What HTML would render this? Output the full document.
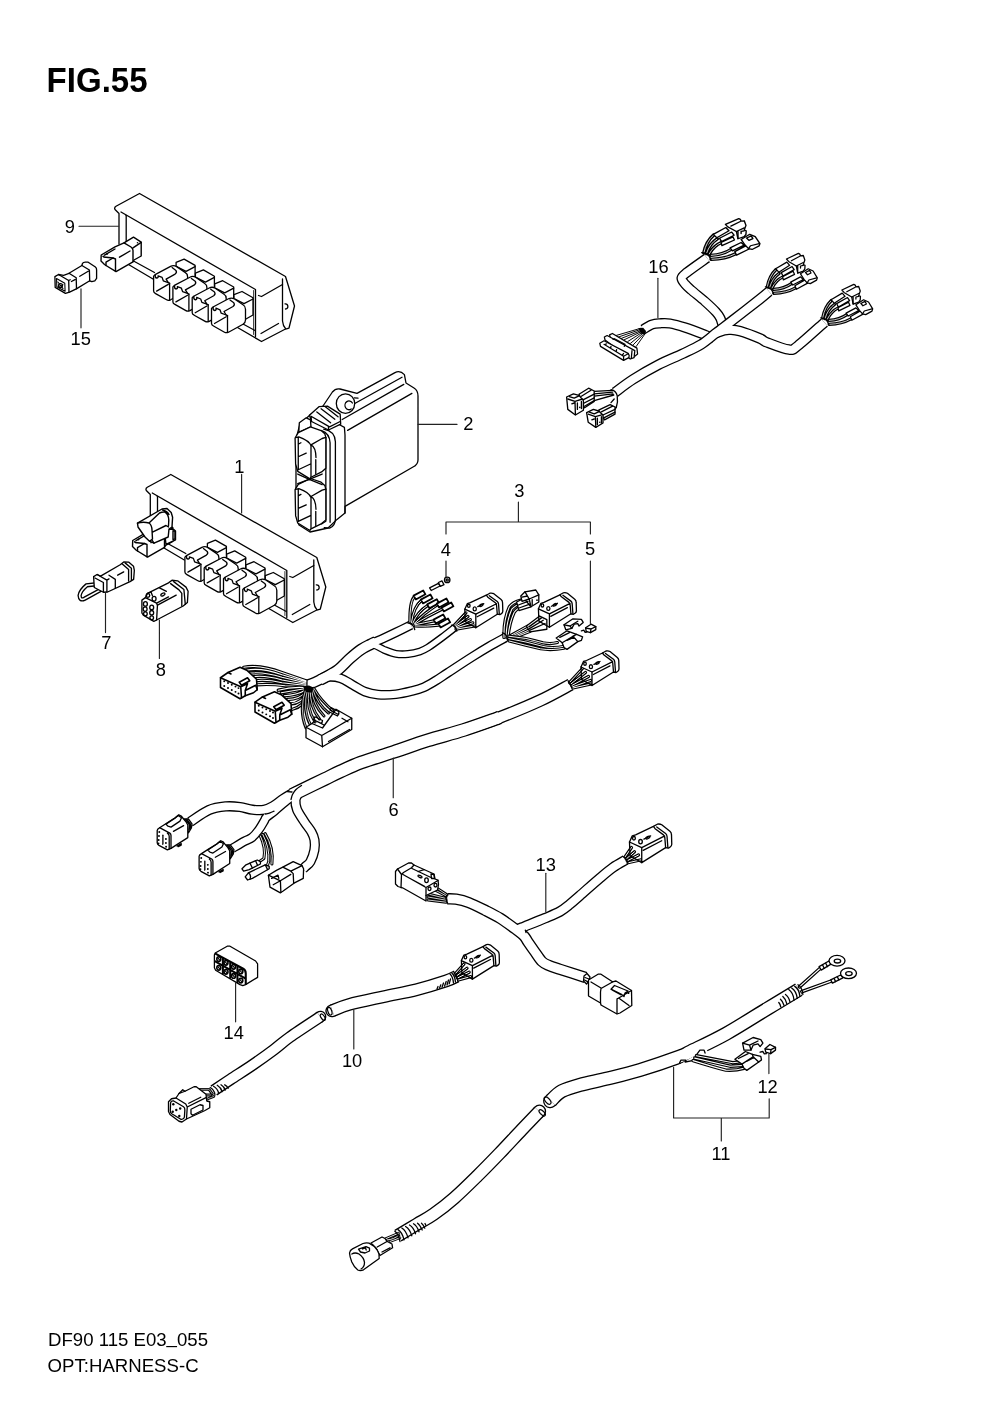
<!DOCTYPE html>
<html><head><meta charset="utf-8"><title>FIG.55</title>
<style>
html,body{margin:0;padding:0;background:#fff;}
body{width:1000px;height:1414px;overflow:hidden;font-family:"Liberation Sans",sans-serif;}
svg{display:block;will-change:transform;}
svg text{font-family:"Liberation Sans",sans-serif;fill:#000;}
.ln{fill:none;stroke:#000;stroke-linecap:round;stroke-linejoin:round;}
.ld{stroke:#222;stroke-width:1.15;}
.wf{fill:#fff;stroke:#000;stroke-linecap:round;stroke-linejoin:round;}
</style></head><body>
<svg width="1000" height="1414" viewBox="0 0 1000 1414">
<rect x="0" y="0" width="1000" height="1414" fill="#fff"/>
<!-- 00_text.svg -->
<g id="txt">
<text x="46.6" y="91.8" font-size="34.3" font-weight="bold" textLength="101" lengthAdjust="spacingAndGlyphs">FIG.55</text>
<text x="48.0" y="1345.9" font-size="18.5" textLength="160" lengthAdjust="spacingAndGlyphs">DF90 115 E03<tspan dy="-2.6">_</tspan><tspan dy="2.6">055</tspan></text>
<text x="47.6" y="1371.9" font-size="18.4" textLength="151" lengthAdjust="spacingAndGlyphs">OPT:HARNESS-C</text>
</g>
<!-- 10_part9.svg -->
<defs>
<g id="cn9">
<path class="wf" d="M340,447 L420,415 L530,478 V650 L455,692 L340,560 Z"/>
<path class="ln" d="M440,537 L530,490 M440,537 L350,492"/>
<path class="wf" d="M115,585 L130,570 L285,488 Q315,472 345,490 L430,548 Q455,562 455,592 V700 Q455,728 430,742 L285,822 Q262,832 245,822 L135,760 Q115,750 115,735 Z"/>
<path class="ln" d="M275,655 V822"/>
<path class="ln" d="M132,572 Q125,600 148,606 Q166,600 160,582 L200,598 L212,632 L262,650 L275,658"/>
<path class="ln" d="M262,650 L240,615 L330,565 Q352,548 338,528 L300,500"/>
<path class="ln" d="M145,735 L262,668"/>
</g>
<g id="box9"><g class="ln" stroke-width="1.3">
<path d="M119,244 V213.5 L115,209.5 Q114,207.5 116,206.3 L139.5,193.5 L285.5,276.5 L294.5,306 L289,328 L285.5,329 L261.5,341.5 L237.5,327.5"/>
<path d="M121,212 L255.5,289.5 V336.5"/>
<path d="M253.6,290.5 V334.5" stroke-width="0.8"/>
<path d="M126.2,215.3 V242"/>
<path d="M282.5,279 V321 Q283,326 285.5,328.5"/>
<path d="M282.5,284.5 L261.5,296.5 L258.5,295.5"/>
<path d="M261,333.5 L278.5,323.5"/>
<path d="M243,324 L255,330.5"/>
<path d="M285,303.8 A2.6,2.6 0 1 1 285.5,309"/>
<path d="M134,261.2 L154.5,272.5 M128.5,264.5 L153,279"/>
</g>
<g stroke-width="13">
<use href="#cn9" transform="translate(142.1,217.6) scale(0.1)"/>
<use href="#cn9" transform="translate(161.4,228.4) scale(0.1)"/>
<use href="#cn9" transform="translate(180.7,239.2) scale(0.1)"/>
<use href="#cn9" transform="translate(200,250) scale(0.1)"/>
</g></g>
</defs>
<use href="#box9"/>
<!-- 11_part9b.svg -->
<defs><g id="sc9"><g transform="translate(100,185) scale(0.1)" stroke-width="14">
<path class="wf" d="M12,700 L150,618 L240,578 L335,522 L412,572 V710 L340,750 L330,768 L160,866 L60,805 L45,795 L10,760 Z"/>
<path class="ln" d="M240,578 L310,620 Q330,635 330,655 V765"/>
<path class="ln" d="M330,628 L412,574"/>
<path class="ln" d="M155,740 V862 M60,772 L130,730 L155,740 M60,772 V805"/>
<path class="ln" d="M45,702 L150,640 M195,722 L300,660 M30,712 Q40,725 60,722 L130,730"/>
<circle cx="70" cy="690" r="9" fill="#000"/>
<circle cx="375" cy="578" r="8" fill="#000"/>
</g></g></defs>
<use href="#sc9"/>

<g transform="translate(45,252) scale(0.06)" stroke-width="22">
<path class="wf" d="M615,225 L625,190 Q640,168 670,168 L720,170 L840,250 Q862,268 860,300 V440 L830,480 L780,495 L745,480 L530,610 L410,670 L340,690 L170,590 L165,410 L225,375 L310,388 L400,355 Z"/>
<path class="ln" d="M225,375 L395,475 L400,672 M395,475 L420,462 M400,355 L520,430 L525,612 M615,225 L740,300 L745,480 M580,405 L720,320 M440,492 L500,460"/>
<path class="ln" stroke-width="18" d="M192,442 L330,522 L335,655 L197,578 Z M215,500 L300,610 M300,545 L225,575"/>
<circle class="ln" stroke-width="18" cx="258" cy="558" r="34"/>
</g>
<path class="ln ld" d="M79,226.2 H118.6 M81,288.8 V327.8"/>


<!-- 20_h16.svg -->
<path d="M724,327 C723.67,326.33 722.63,324.50 722.00,323.00 C721.37,321.50 721.20,319.83 720.20,318.00 C719.20,316.17 718.53,314.75 716.00,312.00 C713.47,309.25 709.13,305.17 705.00,301.50 C700.87,297.83 694.53,292.92 691.20,290.00 C687.87,287.08 686.60,286.00 685.00,284.00 C683.40,282.00 681.27,279.93 681.60,278.00 C681.93,276.07 682.77,275.73 687.00,272.40 C691.23,269.07 703.67,260.40 707.00,258.00" fill="none" stroke="#000" stroke-width="10.3" stroke-linecap="butt" stroke-linejoin="round"/>
<path d="M643,329.5 C644.50,328.67 649.17,325.53 652.00,324.50 C654.83,323.47 657.00,323.47 660.00,323.30 C663.00,323.13 665.83,322.80 670.00,323.50 C674.17,324.20 679.00,325.55 685.00,327.50 C691.00,329.45 701.17,333.37 706.00,335.20 C710.83,337.03 712.67,337.95 714.00,338.50" fill="none" stroke="#000" stroke-width="10.3" stroke-linecap="butt" stroke-linejoin="round"/>
<path d="M724,327 C723.67,326.33 722.63,324.50 722.00,323.00 C721.37,321.50 721.20,319.83 720.20,318.00 C719.20,316.17 718.53,314.75 716.00,312.00 C713.47,309.25 709.13,305.17 705.00,301.50 C700.87,297.83 694.53,292.92 691.20,290.00 C687.87,287.08 686.60,286.00 685.00,284.00 C683.40,282.00 681.27,279.93 681.60,278.00 C681.93,276.07 682.77,275.73 687.00,272.40 C691.23,269.07 703.67,260.40 707.00,258.00" fill="none" stroke="#fff" stroke-width="7.7" stroke-linecap="butt" stroke-linejoin="round"/>
<path d="M643,329.5 C644.50,328.67 649.17,325.53 652.00,324.50 C654.83,323.47 657.00,323.47 660.00,323.30 C663.00,323.13 665.83,322.80 670.00,323.50 C674.17,324.20 679.00,325.55 685.00,327.50 C691.00,329.45 701.17,333.37 706.00,335.20 C710.83,337.03 712.67,337.95 714.00,338.50" fill="none" stroke="#fff" stroke-width="7.7" stroke-linecap="butt" stroke-linejoin="round"/>
<path d="M615,392.4 C618.00,390.23 625.83,383.97 633.00,379.40 C640.17,374.83 649.75,369.27 658.00,365.00 C666.25,360.73 675.33,357.22 682.50,353.80 C689.67,350.38 695.58,347.83 701.00,344.50 C706.42,341.17 711.50,336.47 715.00,333.80 C718.50,331.13 719.50,330.42 722.00,328.50 C724.50,326.58 723.67,327.22 730.00,322.30 C736.33,317.38 753.50,304.13 760.00,299.00 C766.50,293.87 767.50,292.75 769.00,291.50" fill="none" stroke="#000" stroke-width="10.6" stroke-linecap="butt" stroke-linejoin="round"/>
<path d="M716,333 C717.33,332.55 721.67,330.85 724.00,330.30 C726.33,329.75 727.33,329.55 730.00,329.70 C732.67,329.85 735.00,329.73 740.00,331.20 C745.00,332.67 755.50,336.63 760.00,338.50 C764.50,340.37 762.17,340.55 767.00,342.40 C771.83,344.25 783.83,349.07 789.00,349.60 C794.17,350.13 792.10,350.13 798.00,345.60 C803.90,341.07 820.00,326.27 824.40,322.40" fill="none" stroke="#000" stroke-width="10.6" stroke-linecap="butt" stroke-linejoin="round"/>
<path d="M615,392.4 C618.00,390.23 625.83,383.97 633.00,379.40 C640.17,374.83 649.75,369.27 658.00,365.00 C666.25,360.73 675.33,357.22 682.50,353.80 C689.67,350.38 695.58,347.83 701.00,344.50 C706.42,341.17 711.50,336.47 715.00,333.80 C718.50,331.13 719.50,330.42 722.00,328.50 C724.50,326.58 723.67,327.22 730.00,322.30 C736.33,317.38 753.50,304.13 760.00,299.00 C766.50,293.87 767.50,292.75 769.00,291.50" fill="none" stroke="#fff" stroke-width="8" stroke-linecap="butt" stroke-linejoin="round"/>
<path d="M716,333 C717.33,332.55 721.67,330.85 724.00,330.30 C726.33,329.75 727.33,329.55 730.00,329.70 C732.67,329.85 735.00,329.73 740.00,331.20 C745.00,332.67 755.50,336.63 760.00,338.50 C764.50,340.37 762.17,340.55 767.00,342.40 C771.83,344.25 783.83,349.07 789.00,349.60 C794.17,350.13 792.10,350.13 798.00,345.60 C803.90,341.07 820.00,326.27 824.40,322.40" fill="none" stroke="#fff" stroke-width="8" stroke-linecap="butt" stroke-linejoin="round"/>
<defs><g id="g16">
<path class="ln" stroke-width="46" d="M175,600 Q205,440 300,350 M208,610 Q250,470 345,405 M240,620 Q300,500 398,455 M265,635 Q420,625 520,552 M268,690 Q450,685 580,612"/>
<path fill="none" stroke="#fff" stroke-width="11" d="M175,600 Q205,440 300,350 M208,610 Q250,470 345,405 M240,620 Q300,500 398,455 M265,635 Q420,625 520,552 M268,690 Q450,685 580,612"/>
<path class="ln" d="M148,597 Q240,600 266,702" stroke-width="18"/>
<path class="wf" stroke-width="18" d="M295,340 L455,245 L495,290 L340,388 Z M375,395 L530,308 L560,352 L400,442 Z M395,452 L545,375 L565,420 L405,498 Z M510,530 L650,455 L690,492 L540,572 Z M570,582 L720,495 L752,545 L592,632 Z"/>
<path class="wf" stroke-width="18" d="M450,200 L620,120 L640,130 L650,155 L690,150 L712,215 L690,280 L715,290 L712,340 L690,372 L610,402 L590,300 L480,235 Z"/>
<path class="ln" stroke-width="18" d="M520,225 L640,160 M590,300 L690,250 M610,300 V400 M650,330 V300 L690,290"/>
<path class="wf" stroke-width="18" d="M650,412 L760,340 L830,372 L890,470 L880,502 L790,552 L745,540 L700,490 Z"/>
<path class="ln" stroke-width="18" d="M745,540 L770,500 L880,470 M720,392 L780,362 L800,400 L750,425 Z"/>
</g></defs>
<use href="#g16" transform="translate(755,245) scale(0.07)"/>
<use href="#g16" transform="translate(693,212) scale(0.07) translate(200,625) scale(1.12,1.02) translate(-215,-640)"/>
<use href="#g16" transform="translate(810.4,276) scale(0.07)"/>
<g transform="translate(590,310) scale(0.07)" stroke-width="18">
<path class="ln" stroke-width="14" d="M370,365 L720,262 M410,385 L730,275 M450,405 L740,290 M490,425 L750,300 M540,450 L760,310 M580,475 L770,320 M620,495 L780,330 M660,520 L790,335"/>
<path d="M690,262 L760,255 L800,300 L790,345 L730,340 Z" fill="#000"/>
<path class="wf" d="M280,355 L320,335 L670,545 L680,630 L640,660 L300,440 Z"/>
<path class="wf" d="M205,385 L245,365 L640,580 L630,680 L575,700 L215,430 Z"/>
<path class="ln" d="M330,420 L350,410 L500,490 L490,520 M600,580 L590,690"/>
<path class="wf" d="M140,475 L200,440 L545,620 L560,650 L555,680 L480,720 L150,520 Z"/>
<path class="ln" d="M200,490 L480,660 L480,715 M480,660 L545,625 M230,480 L225,500 M300,520 L295,545 M380,565 L375,590 M480,620 L460,650"/>
</g>
<g transform="translate(555,375) scale(0.08)" stroke-width="16.5">
<path class="ln" d="M490,205 L720,192 M490,235 L720,215 M490,265 L725,235 M490,320 L735,250 M700,345 L740,300 M740,440 L765,400"/>
<path class="wf" d="M300,240 L420,165 L490,200 L490,330 L370,410 Z"/>
<path class="ln" d="M330,265 L450,190 M350,310 L490,240 M365,350 L490,285 M380,385 L490,320"/>
<path class="wf" d="M145,275 L230,235 L300,255 L355,320 L355,440 L255,500 L160,430 Z"/>
<path class="ln" d="M160,300 L250,330 L255,495 M250,330 L345,300 M180,270 L240,290 L300,262 M210,360 L240,350 M280,350 V430 M330,330 V420"/>
<circle cx="310" cy="405" r="10" fill="#000"/>
<path class="wf" d="M545,440 L690,370 L750,400 L750,490 L620,560 Z"/>
<path class="ln" d="M580,460 L720,390 M600,500 L750,430 M610,535 L750,465"/>
<path class="wf" d="M395,470 L480,430 L545,450 L600,500 L600,600 L510,655 L415,590 Z"/>
<path class="ln" d="M415,490 L505,520 L510,650 M505,520 L595,495 M430,465 L490,485 L545,460 M460,560 L490,550 M530,540 V620 M580,520 V600"/>
<circle cx="560" cy="590" r="10" fill="#000"/>
<path class="ln" d="M700,182 Q765,195 778,260 Q790,340 765,410"/>
</g>
<path class="ln ld" d="M657.9,278.2 V317.5"/>

<!-- 30_part2.svg -->
<g transform="translate(280,355) scale(0.2)" stroke-width="6.5">
<path class="wf" d="M215,255 L262,185 Q278,165 300,170 L385,192 L575,88 Q600,75 622,98 L630,140 L670,165 Q690,178 690,205 V525 Q690,548 665,560 L325,757 L325,790 L285,822 L240,865 L150,885 L95,850 L80,800 V420 L100,345 L150,300 Z"/>
<path class="ln" d="M376,241 L610,111 M311,322.5 L619,147 M338,377 L659.5,192"/>
<path class="ln" d="M300,350 L322,362 L325,400 V790"/>
<ellipse class="wf" cx="327.5" cy="243" rx="46" ry="49"/>
<path class="ln" d="M362,240 A20,22 0 1 0 356,270"/>
<path class="ln" d="M371,214 L390,216"/>
</g>
<g transform="translate(285,395) scale(0.1061)" stroke-width="12.3">
<path class="wf" d="M130,352 L135,262 L200,215 L240,235 L245,300 Z"/>
<path class="ln" d="M345,335 Q420,360 425,450 V1200 M365,322 Q470,340 475,440 V1170 Q475,1230 420,1255 L370,1250 M385,400 V1190 L345,1215"/>
<path class="wf" d="M230,190 L320,110 L400,105 L520,180 L525,275 L410,330 L250,250 Z"/>
<path class="ln" d="M300,160 L430,262 M340,130 L470,228 M380,110 L500,205 M250,250 L245,200 L420,300 L520,250 M410,330 V300"/>
<g id="ec2">
<path class="wf" d="M95,405 L125,355 L240,300 L340,335 L375,365 L385,400 V690 L345,725 L245,775 L235,790 L120,720 L100,650 Z"/>
<path class="ln" d="M100,402 L130,395 Q230,430 245,480 V770 M125,400 V705 M245,470 L350,410 L385,400 M245,470 Q290,490 292,590 M290,610 V745 M125,582 L200,548 M130,702 L240,650 M128,462 L150,450"/>
</g>
<use href="#ec2" transform="translate(0,487)"/>
<path class="ln" d="M120,745 L240,800 L350,845 M120,835 L240,790 L350,745"/>
</g>
<path class="ln ld" d="M418,424.4 H457"/>

<!-- 40_part1.svg -->
<use href="#box9" transform="translate(31.3,281)"/>
<use href="#sc9" transform="translate(31.5,285.5)"/>
<g transform="translate(125,480) scale(0.1)" stroke-width="14">
<path class="wf" d="M440,490 L485,492 L505,510 V598 L410,645 L400,560 Z"/>
<path class="ln" d="M480,508 L500,512 V588 L480,596 Z"/>
<path class="wf" d="M125,432 L370,290 L420,285 L462,325 L476,372 L470,470 L440,490 L432,570 L290,632 L245,612 L200,570 L130,470 Z"/>
<path class="ln" d="M125,432 Q180,415 240,430 Q268,450 270,500 L275,590 L245,612 M240,430 L345,330 Q380,315 400,322 Q435,345 438,400 L435,458 M275,522 L410,455 L435,470 M270,600 L290,632 M375,300 Q420,310 440,345"/>
</g>
<path class="ln ld" d="M241.6,474.4 V513"/>

<!-- 41_p78.svg -->
<g transform="translate(60,550) scale(0.14)">
<path fill="none" stroke="#000" stroke-width="31" stroke-linecap="round" d="M294,241 L191,252 Q145,290 140,325 Q142,365 175,348 L294,283"/>
<path fill="none" stroke="#fff" stroke-width="12" stroke-linecap="round" d="M294,241 L191,252 Q145,290 140,325 Q142,365 175,348 L294,283"/>
<g stroke-width="9.5">
<path class="wf" d="M240,190 L265,175 L290,187 L430,105 L455,85 L490,86 L525,116 L531,145 L526,210 L500,226 L340,300 L310,302 L245,268 Z"/>
<path class="ln" d="M265,175 L335,215 V297 M335,215 L350,206 M445,100 L490,140 V222 M465,92 L510,130 V216 M350,180 L395,210 V272 M412,180 L455,156 M250,200 L310,232 V298"/>
<path class="wf" d="M585,358 L610,340 L625,310 L775,235 L800,216 L840,220 L900,265 L915,295 L910,375 L880,400 L690,500 L670,510 L595,465 L585,450 Z"/>
<path class="ln" d="M610,340 L690,380 L696,396 L690,500 M690,380 L775,335 M790,240 L850,285 L870,310 V398 M812,226 L885,282 L895,388 M700,392 L830,322 M625,310 L650,300 L660,325 M710,270 L760,295"/>
<ellipse class="ln" cx="735" cy="318" rx="16" ry="9" transform="rotate(-25 735 318)"/>
<ellipse class="ln" cx="672" cy="348" rx="14" ry="17"/>
<ellipse class="ln" cx="628" cy="325" rx="13" ry="13"/>
<g class="ln"><ellipse cx="610" cy="385" rx="14" ry="16"/><ellipse cx="655" cy="410" rx="14" ry="16"/><ellipse cx="608" cy="422" rx="14" ry="16"/><ellipse cx="655" cy="448" rx="14" ry="16"/><ellipse cx="610" cy="456" rx="13" ry="14"/><ellipse cx="655" cy="484" rx="13" ry="14"/></g>
</g>
</g>
<path class="ln ld" d="M105.5,593.4 V632.6 M159.4,620 V658.5"/>


<!-- 50_h3.svg -->
<path d="M305,685.5 C306.07,685.18 307.73,685.12 311.40,683.60 C315.07,682.08 323.40,678.17 327.00,676.40 C330.60,674.63 332.00,673.57 333.00,673.00" fill="none" stroke="#000" stroke-width="10.8" stroke-linecap="butt" stroke-linejoin="round"/>
<path d="M320,680 C321.17,679.40 323.90,678.18 327.00,676.40 C330.10,674.62 334.80,672.27 338.60,669.30 C342.40,666.33 346.03,661.92 349.80,658.60 C353.57,655.28 357.70,651.80 361.20,649.40 C364.70,647.00 368.33,645.47 370.80,644.20 C373.27,642.93 375.13,642.20 376.00,641.80" fill="none" stroke="#000" stroke-width="11.7" stroke-linecap="butt" stroke-linejoin="round"/>
<path d="M361.2,649.2 C362.80,648.30 367.20,645.57 370.80,643.80 C374.40,642.03 378.60,640.50 382.80,638.60 C387.00,636.70 391.30,634.67 396.00,632.40 C400.70,630.13 408.50,626.23 411.00,625.00" fill="none" stroke="#000" stroke-width="9.5" stroke-linecap="butt" stroke-linejoin="round"/>
<path d="M358,651 C359.13,650.47 362.23,648.83 364.80,647.80 C367.37,646.77 370.20,644.47 373.40,644.80 C376.60,645.13 380.23,648.30 384.00,649.80 C387.77,651.30 392.00,653.10 396.00,653.80 C400.00,654.50 404.00,654.40 408.00,654.00 C412.00,653.60 416.67,652.48 420.00,651.40 C423.33,650.32 424.33,649.82 428.00,647.50 C431.67,645.18 437.42,640.92 442.00,637.50 C446.58,634.08 453.25,628.75 455.50,627.00" fill="none" stroke="#000" stroke-width="7.9" stroke-linecap="butt" stroke-linejoin="round"/>
<path d="M318,680.5 C319.50,679.92 323.23,677.37 327.00,677.00 C330.77,676.63 336.30,676.97 340.60,678.30 C344.90,679.63 348.77,682.78 352.80,685.00 C356.83,687.22 360.60,690.00 364.80,691.60 C369.00,693.20 372.80,694.17 378.00,694.60 C383.20,695.03 390.33,694.80 396.00,694.20 C401.67,693.60 407.33,692.17 412.00,691.00 C416.67,689.83 420.00,688.95 424.00,687.20 C428.00,685.45 432.00,682.93 436.00,680.50 C440.00,678.07 442.00,676.52 448.00,672.60 C454.00,668.68 465.00,661.43 472.00,657.00 C479.00,652.57 484.42,649.25 490.00,646.00 C495.58,642.75 502.92,638.92 505.50,637.50" fill="none" stroke="#000" stroke-width="9.7" stroke-linecap="butt" stroke-linejoin="round"/>
<path d="M305,685.5 C306.07,685.18 307.73,685.12 311.40,683.60 C315.07,682.08 323.40,678.17 327.00,676.40 C330.60,674.63 332.00,673.57 333.00,673.00" fill="none" stroke="#fff" stroke-width="8.2" stroke-linecap="butt" stroke-linejoin="round"/>
<path d="M320,680 C321.17,679.40 323.90,678.18 327.00,676.40 C330.10,674.62 334.80,672.27 338.60,669.30 C342.40,666.33 346.03,661.92 349.80,658.60 C353.57,655.28 357.70,651.80 361.20,649.40 C364.70,647.00 368.33,645.47 370.80,644.20 C373.27,642.93 375.13,642.20 376.00,641.80" fill="none" stroke="#fff" stroke-width="9.1" stroke-linecap="butt" stroke-linejoin="round"/>
<path d="M361.2,649.2 C362.80,648.30 367.20,645.57 370.80,643.80 C374.40,642.03 378.60,640.50 382.80,638.60 C387.00,636.70 391.30,634.67 396.00,632.40 C400.70,630.13 408.50,626.23 411.00,625.00" fill="none" stroke="#fff" stroke-width="6.9" stroke-linecap="butt" stroke-linejoin="round"/>
<path d="M358,651 C359.13,650.47 362.23,648.83 364.80,647.80 C367.37,646.77 370.20,644.47 373.40,644.80 C376.60,645.13 380.23,648.30 384.00,649.80 C387.77,651.30 392.00,653.10 396.00,653.80 C400.00,654.50 404.00,654.40 408.00,654.00 C412.00,653.60 416.67,652.48 420.00,651.40 C423.33,650.32 424.33,649.82 428.00,647.50 C431.67,645.18 437.42,640.92 442.00,637.50 C446.58,634.08 453.25,628.75 455.50,627.00" fill="none" stroke="#fff" stroke-width="5.3" stroke-linecap="butt" stroke-linejoin="round"/>
<path d="M318,680.5 C319.50,679.92 323.23,677.37 327.00,677.00 C330.77,676.63 336.30,676.97 340.60,678.30 C344.90,679.63 348.77,682.78 352.80,685.00 C356.83,687.22 360.60,690.00 364.80,691.60 C369.00,693.20 372.80,694.17 378.00,694.60 C383.20,695.03 390.33,694.80 396.00,694.20 C401.67,693.60 407.33,692.17 412.00,691.00 C416.67,689.83 420.00,688.95 424.00,687.20 C428.00,685.45 432.00,682.93 436.00,680.50 C440.00,678.07 442.00,676.52 448.00,672.60 C454.00,668.68 465.00,661.43 472.00,657.00 C479.00,652.57 484.42,649.25 490.00,646.00 C495.58,642.75 502.92,638.92 505.50,637.50" fill="none" stroke="#fff" stroke-width="7.1" stroke-linecap="butt" stroke-linejoin="round"/>
<g transform="translate(400,570) scale(0.16)" stroke-width="8.2">
<path class="wf" d="M185,112 L240,84 L250,100 L195,128 Z"/><path class="wf" d="M240,78 L262,68 L275,92 L252,102 Z"/><circle class="wf" cx="295" cy="62" r="17"/><circle class="ln" cx="295" cy="62" r="7"/>
<path class="ln" stroke-width="20" d="M62,325 Q60,200 88,168 M72,328 Q85,230 132,192 M80,332 Q110,260 172,222 M88,335 Q150,270 232,218 M92,338 Q170,290 262,245 M95,342 Q150,330 212,318 M95,350 Q160,355 242,345"/>
<path fill="none" stroke="#fff" stroke-linecap="round" stroke-width="6" d="M62,325 Q60,200 88,168 M72,328 Q85,230 132,192 M80,332 Q110,260 172,222 M88,335 Q150,270 232,218 M92,338 Q170,290 262,245 M95,342 Q150,330 212,318 M95,350 Q160,355 242,345"/>
<path class="ln" d="M48,330 Q85,335 92,372"/>
<path class="wf" stroke-width="11" d="M85,160 l60,-32 l14,24 l-60,32 Z"/>
<path class="wf" stroke-width="11" d="M130,185 l60,-32 l14,24 l-60,32 Z"/>
<path class="wf" stroke-width="11" d="M170,215 l60,-32 l14,24 l-60,32 Z"/>
<path class="wf" stroke-width="11" d="M230,210 l60,-32 l14,24 l-60,32 Z"/>
<path class="wf" stroke-width="11" d="M260,235 l60,-32 l14,24 l-60,32 Z"/>
<path class="wf" stroke-width="11" d="M210,310 l60,-32 l14,24 l-60,32 Z"/>
<path class="wf" stroke-width="11" d="M240,335 l60,-32 l14,24 l-60,32 Z"/>
<path class="ln" stroke-width="20" d="M340,345 L412,268 M345,350 L425,290 M350,355 L440,310 M352,362 L455,330 M350,370 L468,350"/>
<path fill="none" stroke="#fff" stroke-linecap="round" stroke-width="6" d="M340,345 L412,268 M345,350 L425,290 M350,355 L440,310 M352,362 L455,330 M350,370 L468,350"/>
<path class="ln" d="M322,345 Q350,350 355,382"/>
<g id="cB"><path class="wf" d="M405,245 L420.6,210.6 L439.4,204.4 L539.4,157.5 L561.3,145 Q575,142 586.3,148.1 L632,185 Q641,192 641,205 L642.5,258 Q642,268 634,273 L623.8,279.4 L608.1,276.3 L473.8,360.6 V276.3 Z"/>
<path class="ln" d="M405,245 L408,322 L473.8,360.6 M473.8,276.3 L603,211 M539.4,157.5 L548.8,170 L596,205 Q603,211 603.5,222 L608.1,276.3 M558.1,160.6 L608,197 Q615,202 616,214 L620.6,276.3 M482,292 L586,238 M486,229 L523.8,210.6"/>
<ellipse class="ln" cx="430" cy="224" rx="8" ry="10"/><ellipse class="ln" cx="467" cy="243" rx="10" ry="12"/><ellipse class="ln" cx="508" cy="220" rx="12" ry="6" transform="rotate(-25 508 220)"/></g>
</g>
<g transform="translate(495,590) scale(0.12)" stroke-width="11">
<path class="ln" stroke-width="28" d="M75,395 Q70,250 120,140 Q150,100 215,85 M92,392 Q95,260 140,160 Q170,125 225,110 M108,395 Q120,270 160,185 Q185,150 235,135"/>
<path fill="none" stroke="#fff" stroke-linecap="round" stroke-width="9" d="M75,395 Q70,250 120,140 Q150,100 215,85 M92,392 Q95,260 140,160 Q170,125 225,110 M108,395 Q120,270 160,185 Q185,150 235,135"/>
<path class="ln" stroke-width="26" d="M120,385 L268,302 M125,392 L278,317 M128,400 L288,332 M130,408 L293,345"/>
<path fill="none" stroke="#fff" stroke-linecap="round" stroke-width="8" d="M120,385 L268,302 M125,392 L278,317 M128,400 L288,332 M130,408 L293,345"/>
<path class="ln" stroke-width="26" d="M115,385 Q260,395 400,440 Q460,455 520,438 M115,405 Q260,430 400,470 Q480,490 580,468 M118,425 Q250,460 380,490 Q470,505 575,485"/>
<path fill="none" stroke="#fff" stroke-linecap="round" stroke-width="8" d="M115,385 Q260,395 400,440 Q460,455 520,438 M115,405 Q260,430 400,470 Q480,490 580,468 M118,425 Q250,460 380,490 Q470,505 575,485"/>
<path class="ln" d="M62,358 Q100,365 105,420"/>
<path class="wf" d="M180,100 L240,70 L300,140 L200,172 Z"/><path class="ln" d="M195,125 L275,95 M200,150 L290,118"/>
<path class="wf" d="M215,50 L250,15 L340,0 L365,40 L365,100 L300,140 L285,75 L225,95 Z"/><path class="ln" d="M285,75 L365,40 M250,15 L285,75 M310,80 V125 M225,60 L270,50"/><circle cx="350" cy="85" r="7" fill="#000"/>
<path class="wf" d="M262,300 L372,217 L432,247 L432,327 L292,349 Z"/><path class="ln" d="M282,307 L387,232 M287,322 L402,252 M292,335 L417,279"/>
<use href="#cB" transform="translate(-178,-170) scale(1.333)" stroke-width="8.2"/>
<path class="wf" d="M575,290 L650,240 L720,245 L735,270 L700,300 L690,280 L660,285 L640,320 L590,332 Z"/><path class="ln" d="M575,290 L625,300 L640,320 M625,300 L690,260"/>
<path class="wf" d="M510,400 L600,340 L680,370 L730,390 L720,420 L690,430 L600,495 L575,480 L560,440 Z"/><path class="ln" d="M560,440 L650,385 L690,430 M540,395 L620,355 M600,420 L660,392 M650,385 L680,370"/>
<path class="wf" d="M755,315 L800,285 L840,305 L840,330 L795,355 L760,345 Z"/><path class="ln" d="M720,340 L740,335 L750,352 L765,350 M795,355 L800,325 L840,305 M800,325 L757,318"/>
</g>
<g transform="translate(210,650) scale(0.15)" stroke-width="8.7">
<path class="ln" stroke-width="22" d="M225,115 Q330,95 480,150 L640,205 M240,135 Q340,115 480,165 L640,212 M255,155 Q350,140 480,182 L640,220 M275,180 Q360,165 480,200 L640,228 M295,205 Q380,195 480,218 L640,236 M315,232 Q400,225 500,238 L630,245"/>
<path fill="none" stroke="#fff" stroke-linecap="round" stroke-width="7" d="M225,115 Q330,95 480,150 L640,205 M240,135 Q340,115 480,165 L640,212 M255,155 Q350,140 480,182 L640,220 M275,180 Q360,165 480,200 L640,228 M295,205 Q380,195 480,218 L640,236 M315,232 Q400,225 500,238 L630,245"/>
<path class="ln" stroke-width="22" d="M455,268 Q540,245 625,250 M475,285 Q560,270 630,258 M495,305 Q580,300 635,268 M515,330 Q600,330 640,275 M535,360 Q615,355 645,282 M550,395 Q630,375 650,290"/>
<path fill="none" stroke="#fff" stroke-linecap="round" stroke-width="7" d="M455,268 Q540,245 625,250 M475,285 Q560,270 630,258 M495,305 Q580,300 635,268 M515,330 Q600,330 640,275 M535,360 Q615,355 645,282 M550,395 Q630,375 650,290"/>
<path class="ln" stroke-width="20" d="M640,255 Q590,400 640,520 M650,260 Q615,400 670,500 M660,262 Q640,390 700,480 M668,262 Q665,380 730,460 M676,260 Q690,370 760,440 M684,258 Q715,360 790,420 M692,255 Q740,340 820,405"/>
<path fill="none" stroke="#fff" stroke-linecap="round" stroke-width="5" d="M640,255 Q590,400 640,520 M650,260 Q615,400 670,500 M660,262 Q640,390 700,480 M668,262 Q665,380 730,460 M676,260 Q690,370 760,440 M684,258 Q715,360 790,420 M692,255 Q740,340 820,405"/>
<path d="M618,240 L660,236 L690,250 L680,285 L640,280 Z" fill="#000"/>
<g id="cL" stroke-width="10.5"><path class="wf" d="M70,185 L120,150 L200,115 L245,135 L310,195 L315,265 L290,285 L235,305 L200,325 L70,250 Z"/>
<path class="ln" d="M70,185 L205,245 L210,320 M205,245 L250,225 M120,150 L140,160 M195,215 L250,185 L265,205 L210,235 Z M235,270 L305,235 L315,265 M235,270 V305 M250,225 L235,270"/>
<g fill="#000"><circle cx="95" cy="208" r="6.5"/><circle cx="120" cy="220" r="6.5"/><circle cx="145" cy="232" r="6.5"/><circle cx="170" cy="244" r="6.5"/><circle cx="190" cy="254" r="6.5"/><circle cx="95" cy="240" r="6.5"/><circle cx="120" cy="253" r="6.5"/><circle cx="145" cy="266" r="6.5"/><circle cx="170" cy="279" r="6.5"/><circle cx="190" cy="290" r="6.5"/></g></g>
<use href="#cL" transform="translate(230,163)"/>
<path class="wf" d="M640,515 L680,490 L750,520 L840,395 L945,455 L945,530 L750,645 L640,585 Z"/>
<path class="ln" d="M640,515 L745,570 L750,645 M745,570 L945,455 M680,490 L700,470 L760,500 M790,410 L850,440 L860,425 M800,540 L900,480 M790,610 L930,530 M880,455 L920,478 M690,465 L745,490 L750,470 L700,445 Z M800,400 L855,430 L860,412 L810,385 Z"/>
</g>
<path class="ln ld" d="M518.4,502 V522 M446,534 V522 H590.4 V534 M446,561 V577 M590.4,561 V623.5"/>

<!-- 60_h6.svg -->
<path d="M298,790.5 C297.00,791.00 294.50,792.08 292.00,793.50 C289.50,794.92 286.17,796.88 283.00,799.00 C279.83,801.12 276.17,804.40 273.00,806.20 C269.83,808.00 267.42,809.22 264.00,809.80 C260.58,810.38 256.50,810.17 252.50,809.70 C248.50,809.23 244.42,807.55 240.00,807.00 C235.58,806.45 231.17,805.90 226.00,806.40 C220.83,806.90 215.00,807.40 209.00,810.00 C203.00,812.60 193.17,820.00 190.00,822.00" fill="none" stroke="#000" stroke-width="10.3" stroke-linecap="butt" stroke-linejoin="round"/>
<path d="M292,796.5 C290.83,797.42 287.92,799.58 285.00,802.00 C282.08,804.42 277.63,808.42 274.50,811.00 C271.37,813.58 267.87,815.92 266.20,817.50 C264.53,819.08 265.70,818.50 264.50,820.50 C263.30,822.50 261.08,826.67 259.00,829.50 C256.92,832.33 254.33,835.58 252.00,837.50 C249.67,839.42 248.27,839.18 245.00,841.00 C241.73,842.82 234.50,847.17 232.40,848.40" fill="none" stroke="#000" stroke-width="9.5" stroke-linecap="butt" stroke-linejoin="round"/>
<path d="M304,788 C303.00,789.00 299.42,792.00 298.00,794.00 C296.58,796.00 295.67,797.42 295.50,800.00 C295.33,802.58 295.50,805.83 297.00,809.50 C298.50,813.17 302.08,818.25 304.50,822.00 C306.92,825.75 309.83,829.00 311.50,832.00 C313.17,835.00 314.02,837.00 314.50,840.00 C314.98,843.00 315.08,846.40 314.40,850.00 C313.72,853.60 311.87,858.87 310.40,861.60 C308.93,864.33 306.83,865.17 305.60,866.40 C304.37,867.63 303.43,868.57 303.00,869.00" fill="none" stroke="#000" stroke-width="10.2" stroke-linecap="butt" stroke-linejoin="round"/>
<path d="M292,795 C293.33,794.35 294.50,793.78 300.00,791.10 C305.50,788.42 318.33,782.13 325.00,778.90 C331.67,775.67 334.00,774.43 340.00,771.70 C346.00,768.97 352.10,765.78 361.00,762.50 C369.90,759.22 382.30,755.68 393.40,752.00 C404.50,748.32 415.90,744.07 427.60,740.40 C439.30,736.73 451.60,733.82 463.60,730.00 C475.60,726.18 493.60,719.58 499.60,717.50" fill="none" stroke="#000" stroke-width="13.9" stroke-linecap="butt" stroke-linejoin="round"/>
<path d="M463.6,730 C469.60,727.92 486.87,722.40 499.60,717.50 C512.33,712.60 528.18,706.08 540.00,700.60 C551.82,695.12 565.42,687.27 570.50,684.60" fill="none" stroke="#000" stroke-width="12.7" stroke-linecap="butt" stroke-linejoin="round"/>
<path d="M298,790.5 C297.00,791.00 294.50,792.08 292.00,793.50 C289.50,794.92 286.17,796.88 283.00,799.00 C279.83,801.12 276.17,804.40 273.00,806.20 C269.83,808.00 267.42,809.22 264.00,809.80 C260.58,810.38 256.50,810.17 252.50,809.70 C248.50,809.23 244.42,807.55 240.00,807.00 C235.58,806.45 231.17,805.90 226.00,806.40 C220.83,806.90 215.00,807.40 209.00,810.00 C203.00,812.60 193.17,820.00 190.00,822.00" fill="none" stroke="#fff" stroke-width="7.7" stroke-linecap="butt" stroke-linejoin="round"/>
<path d="M292,796.5 C290.83,797.42 287.92,799.58 285.00,802.00 C282.08,804.42 277.63,808.42 274.50,811.00 C271.37,813.58 267.87,815.92 266.20,817.50 C264.53,819.08 265.70,818.50 264.50,820.50 C263.30,822.50 261.08,826.67 259.00,829.50 C256.92,832.33 254.33,835.58 252.00,837.50 C249.67,839.42 248.27,839.18 245.00,841.00 C241.73,842.82 234.50,847.17 232.40,848.40" fill="none" stroke="#fff" stroke-width="6.9" stroke-linecap="butt" stroke-linejoin="round"/>
<path d="M304,788 C303.00,789.00 299.42,792.00 298.00,794.00 C296.58,796.00 295.67,797.42 295.50,800.00 C295.33,802.58 295.50,805.83 297.00,809.50 C298.50,813.17 302.08,818.25 304.50,822.00 C306.92,825.75 309.83,829.00 311.50,832.00 C313.17,835.00 314.02,837.00 314.50,840.00 C314.98,843.00 315.08,846.40 314.40,850.00 C313.72,853.60 311.87,858.87 310.40,861.60 C308.93,864.33 306.83,865.17 305.60,866.40 C304.37,867.63 303.43,868.57 303.00,869.00" fill="none" stroke="#fff" stroke-width="7.6" stroke-linecap="butt" stroke-linejoin="round"/>
<path d="M292,795 C293.33,794.35 294.50,793.78 300.00,791.10 C305.50,788.42 318.33,782.13 325.00,778.90 C331.67,775.67 334.00,774.43 340.00,771.70 C346.00,768.97 352.10,765.78 361.00,762.50 C369.90,759.22 382.30,755.68 393.40,752.00 C404.50,748.32 415.90,744.07 427.60,740.40 C439.30,736.73 451.60,733.82 463.60,730.00 C475.60,726.18 493.60,719.58 499.60,717.50" fill="none" stroke="#fff" stroke-width="11.3" stroke-linecap="butt" stroke-linejoin="round"/>
<path d="M463.6,730 C469.60,727.92 486.87,722.40 499.60,717.50 C512.33,712.60 528.18,706.08 540.00,700.60 C551.82,695.12 565.42,687.27 570.50,684.60" fill="none" stroke="#fff" stroke-width="10.1" stroke-linecap="butt" stroke-linejoin="round"/>
<path class="ln" stroke-width="1.3" d="M301.5,785.5 C300.58,786.17 297.50,788.00 296.00,789.50 C294.50,791.00 293.33,792.83 292.50,794.50 C291.67,796.17 291.25,798.67 291.00,799.50"/>
<path class="ln" stroke-width="1.3" d="M274,811.2 C273.33,811.47 271.42,812.33 270.00,812.80 C268.58,813.27 266.25,813.80 265.50,814.00"/>
<path class="ln" stroke-width="1.3" d="M287.2,791.6 L292,792"/>
<g transform="translate(540,640) scale(0.1)" stroke-width="13">
<path class="ln" stroke-width="32" d="M295,425 L425,285 M308,440 L455,325 M318,455 L485,365 M326,468 L505,405 M330,480 L512,440"/>
<path fill="none" stroke="#fff" stroke-linecap="round" stroke-width="10" d="M295,425 L425,285 M308,440 L455,325 M318,455 L485,365 M326,468 L505,405 M330,480 L512,440"/>
<path class="ln" d="M282,410 Q305,440 318,480"/>
</g>
<use href="#cB" transform="translate(516.2,627.8) scale(0.16)" stroke-width="8.2"/>
<g transform="translate(150,800) scale(0.16)" stroke-width="8.2">
<path class="ln" stroke-width="19" d="M690,225 Q725,300 712,365 L680,388 M705,215 Q750,300 742,385 L735,405 M720,210 Q775,300 762,400"/>
<path fill="none" stroke="#fff" stroke-linecap="round" stroke-width="6" d="M690,225 Q725,300 712,365 L680,388 M705,215 Q750,300 742,385 L735,405 M720,210 Q775,300 762,400"/>
<path class="wf" d="M575,430 L600,405 L670,375 L690,385 L690,400 L620,435 L585,445 Z"/><path class="ln" d="M625,395 L640,425 M660,380 L672,408"/>
<path class="wf" d="M595,480 L615,455 L720,405 L745,415 L745,430 L640,490 L610,500 Z"/><path class="ln" d="M615,455 Q635,465 625,495 M720,405 L735,435"/>
<g id="p6" transform="translate(0,62.5) scale(0.375)" stroke-width="22"><path class="wf" d="M560,150 L640,150 L700,230 L690,300 L640,380 L625,300 Z"/><path class="ln" d="M590,160 L655,245 L650,330 M615,155 L678,238 L670,318"/>
<path class="wf" d="M120,340 Q120,318 160,295 L270,225 L420,130 L480,80 L520,100 L560,150 L600,195 L630,250 V460 L350,640 L290,665 L150,590 Q120,570 120,545 Z"/>
<path class="ln" d="M160,295 L330,385 Q350,400 350,425 V640 M290,385 Q322,405 320,440 V650 M390,355 L560,260 M265,235 L410,140 L470,90 L525,130 L500,185 L350,285 L300,270 Z M450,600 L520,560 V585 L470,610"/>
<path class="ln" d="M215,420 V560"/><g fill="#000"><circle cx="155" cy="368" r="16"/><circle cx="150" cy="432" r="16"/><circle cx="145" cy="500" r="16"/><circle cx="142" cy="556" r="16"/><circle cx="265" cy="482" r="16"/><circle cx="265" cy="550" r="16"/><circle cx="268" cy="612" r="16"/><circle cx="212" cy="570" r="11"/></g></g>
<use href="#p6" transform="translate(262,162)"/>
<path class="wf" d="M740,470 L790,440 L830,420 L895,385 L950,410 L960,430 L958,490 L900,520 L830,570 L815,580 L750,545 Z"/>
<path class="ln" d="M740,470 L815,505 L818,578 M815,505 L880,465 M830,420 L880,445 L895,460 L898,520 M880,445 L950,410 M760,490 L800,470 L805,490 M770,530 L815,505"/>
</g>
<path class="ln ld" d="M393.25,758 V797.75"/>

<!-- 70_h13.svg -->
<path d="M518,929.3 C518.67,929.00 517.50,929.35 522.00,927.50 C526.50,925.65 538.67,920.87 545.00,918.20 C551.33,915.53 555.83,913.83 560.00,911.50 C564.17,909.17 566.67,906.87 570.00,904.20 C573.33,901.53 575.00,899.87 580.00,895.50 C585.00,891.13 594.50,882.67 600.00,878.00 C605.50,873.33 608.75,870.50 613.00,867.50 C617.25,864.50 623.42,861.25 625.50,860.00" fill="none" stroke="#000" stroke-width="10.6" stroke-linecap="butt" stroke-linejoin="round"/>
<path d="M447.5,898.8 C448.92,898.87 452.50,898.58 456.00,899.20 C459.50,899.82 463.67,900.67 468.50,902.50 C473.33,904.33 479.75,907.58 485.00,910.20 C490.25,912.82 494.83,914.98 500.00,918.20 C505.17,921.42 512.00,926.53 516.00,929.50 C520.00,932.47 522.00,933.92 524.00,936.00 C526.00,938.08 526.17,939.33 528.00,942.00 C529.83,944.67 532.67,948.75 535.00,952.00 C537.33,955.25 539.67,959.25 542.00,961.50 C544.33,963.75 546.00,964.20 549.00,965.50 C552.00,966.80 553.92,967.30 560.00,969.30 C566.08,971.30 581.25,976.13 585.50,977.50" fill="none" stroke="#000" stroke-width="11.4" stroke-linecap="butt" stroke-linejoin="round"/>
<path d="M518,929.3 C518.67,929.00 517.50,929.35 522.00,927.50 C526.50,925.65 538.67,920.87 545.00,918.20 C551.33,915.53 555.83,913.83 560.00,911.50 C564.17,909.17 566.67,906.87 570.00,904.20 C573.33,901.53 575.00,899.87 580.00,895.50 C585.00,891.13 594.50,882.67 600.00,878.00 C605.50,873.33 608.75,870.50 613.00,867.50 C617.25,864.50 623.42,861.25 625.50,860.00" fill="none" stroke="#fff" stroke-width="8" stroke-linecap="butt" stroke-linejoin="round"/>
<path d="M447.5,898.8 C448.92,898.87 452.50,898.58 456.00,899.20 C459.50,899.82 463.67,900.67 468.50,902.50 C473.33,904.33 479.75,907.58 485.00,910.20 C490.25,912.82 494.83,914.98 500.00,918.20 C505.17,921.42 512.00,926.53 516.00,929.50 C520.00,932.47 522.00,933.92 524.00,936.00 C526.00,938.08 526.17,939.33 528.00,942.00 C529.83,944.67 532.67,948.75 535.00,952.00 C537.33,955.25 539.67,959.25 542.00,961.50 C544.33,963.75 546.00,964.20 549.00,965.50 C552.00,966.80 553.92,967.30 560.00,969.30 C566.08,971.30 581.25,976.13 585.50,977.50" fill="none" stroke="#fff" stroke-width="8.8" stroke-linecap="butt" stroke-linejoin="round"/>
<path class="ln" stroke-width="1.3" d="M525.4,930.2 L526,932.5"/>
<g transform="translate(385,850) scale(0.1)" stroke-width="13">
<path class="ln" stroke-width="30" d="M430,440 L600,482 M430,470 L610,502 M430,500 L610,522 M500,400 L605,455 M535,392 L620,448"/>
<path fill="none" stroke="#fff" stroke-linecap="round" stroke-width="8" d="M430,440 L600,482 M430,470 L610,502 M430,500 L610,522 M500,400 L605,455 M535,392 L620,448"/>
<path class="ln" d="M622,447 Q600,490 626,532"/>
<path class="wf" d="M105,340 V215 L125,190 L235,130 L265,130 L290,150 L490,240 L500,290 L530,302 L535,345 L525,400 L410,455 V510 L175,378 L160,375 L130,365 Z"/>
<path class="ln" d="M160,375 L165,245 L185,225 L265,178 L290,150 M125,190 L165,245 M180,245 L410,375 V455 M410,375 L530,305 M210,262 L395,362 M270,185 L470,280 M330,215 L392,196 M460,240 L490,245 L495,285 L465,285 Z"/>
<ellipse class="ln" cx="350" cy="265" rx="22" ry="10" transform="rotate(25 350 265)"/><ellipse class="ln" cx="415" cy="302" rx="18" ry="24"/><ellipse class="ln" cx="445" cy="388" rx="15" ry="18"/><ellipse class="ln" cx="505" cy="352" rx="15" ry="18"/>
</g>
<g transform="translate(600,815) scale(0.1)" stroke-width="13">
<path class="ln" stroke-width="32" d="M250,420 L315,325 M262,440 L345,368 M272,458 L385,400 M280,478 L412,448"/>
<path fill="none" stroke="#fff" stroke-linecap="round" stroke-width="10" d="M250,420 L315,325 M262,440 L345,368 M272,458 L385,400 M280,478 L412,448"/>
<path class="ln" d="M228,415 Q268,430 280,482"/>
</g>
<use href="#cB" transform="translate(557.4,798.4) scale(0.178)" stroke-width="7.4"/>
<g transform="translate(560,950) scale(0.1)" stroke-width="13">
<path class="wf" d="M240,260 L270,235 L300,270 L290,310 L265,340 L235,310 Z"/><path class="ln" d="M250,275 L290,290 M245,300 L280,318"/>
<path class="wf" d="M285,300 L380,242 L410,242 L525,318 L560,310 L715,405 L718,555 L600,630 L570,640 L410,550 L405,530 L285,460 Z"/>
<path class="ln" d="M410,385 L525,320 M410,385 L405,420 V530 M310,320 L410,380 M570,490 L715,405 M570,490 V635 M510,392 L545,355 L680,410 M510,392 L610,440 L640,465 L650,430 L680,410 M590,482 L690,555 M520,400 L612,448"/><circle cx="685" cy="432" r="9" fill="#000"/>
</g>
<path class="ln ld" d="M545.8,873.2 V911.8"/>

<g transform="translate(200,935) scale(0.08)" stroke-width="16">
<path class="wf" d="M180,250 L190,225 L340,140 L375,140 L695,325 L720,360 V530 L570,620 L535,632 L500,620 L195,440 L180,410 Z"/>
<path class="ln" stroke-width="26" d="M198,235 L540,422 Q572,440 572,480 V612 M286,290 V480 M378,340 V535 M468,390 V590 M190,330 L560,540"/>
<ellipse class="ln" stroke-width="20" cx="235" cy="300" rx="25" ry="29"/><path class="ln" stroke-width="14" d="M226,289 l18,22"/>
<ellipse class="ln" stroke-width="20" cx="325" cy="348" rx="25" ry="29"/><path class="ln" stroke-width="14" d="M316,337 l18,22"/>
<ellipse class="ln" stroke-width="20" cx="420" cy="398" rx="25" ry="29"/><path class="ln" stroke-width="14" d="M411,387 l18,22"/>
<ellipse class="ln" stroke-width="20" cx="510" cy="455" rx="25" ry="29"/><path class="ln" stroke-width="14" d="M501,444 l18,22"/>
<ellipse class="ln" stroke-width="20" cx="235" cy="410" rx="25" ry="29"/><path class="ln" stroke-width="14" d="M226,399 l18,22"/>
<ellipse class="ln" stroke-width="20" cx="325" cy="460" rx="25" ry="29"/><path class="ln" stroke-width="14" d="M316,449 l18,22"/>
<ellipse class="ln" stroke-width="20" cx="420" cy="512" rx="25" ry="29"/><path class="ln" stroke-width="14" d="M411,501 l18,22"/>
<ellipse class="ln" stroke-width="20" cx="510" cy="570" rx="25" ry="29"/><path class="ln" stroke-width="14" d="M501,559 l18,22"/>
</g>
<path class="ln ld" d="M235.6,982.6 V1021.8"/>

<path d="M333,1010.4 L331.8,1010.8" fill="none" stroke="#000" stroke-width="12.9" stroke-linecap="round" stroke-linejoin="round"/>
<path d="M333,1010.4 L331.8,1010.8" fill="none" stroke="#fff" stroke-width="10.3" stroke-linecap="round" stroke-linejoin="round"/>
<path d="M319.6,1017.2 L320.4,1016.6" fill="none" stroke="#000" stroke-width="11.9" stroke-linecap="round" stroke-linejoin="round"/>
<path d="M319.6,1017.2 L320.4,1016.6" fill="none" stroke="#fff" stroke-width="9.3" stroke-linecap="round" stroke-linejoin="round"/>
<path d="M332.4,1010.6 C335.23,1009.57 340.88,1006.72 349.40,1004.40 C357.92,1002.08 372.32,999.15 383.50,996.70 C394.68,994.25 406.05,992.33 416.50,989.70 C426.95,987.07 439.52,983.13 446.20,980.90 C452.88,978.67 454.87,977.07 456.60,976.30" fill="none" stroke="#000" stroke-width="12.9" stroke-linecap="butt" stroke-linejoin="round"/>
<path d="M332.4,1010.6 C335.23,1009.57 340.88,1006.72 349.40,1004.40 C357.92,1002.08 372.32,999.15 383.50,996.70 C394.68,994.25 406.05,992.33 416.50,989.70 C426.95,987.07 439.52,983.13 446.20,980.90 C452.88,978.67 454.87,977.07 456.60,976.30" fill="none" stroke="#fff" stroke-width="10.3" stroke-linecap="butt" stroke-linejoin="round"/>
<path d="M320.2,1016.8 C315.17,1020.17 297.78,1031.47 290.00,1037.00 C282.22,1042.53 279.75,1045.33 273.50,1050.00 C267.25,1054.67 259.62,1060.13 252.50,1065.00 C245.38,1069.87 237.25,1074.95 230.80,1079.20 C224.35,1083.45 216.63,1088.62 213.80,1090.50" fill="none" stroke="#000" stroke-width="11.9" stroke-linecap="butt" stroke-linejoin="round"/>
<path d="M320.2,1016.8 C315.17,1020.17 297.78,1031.47 290.00,1037.00 C282.22,1042.53 279.75,1045.33 273.50,1050.00 C267.25,1054.67 259.62,1060.13 252.50,1065.00 C245.38,1069.87 237.25,1074.95 230.80,1079.20 C224.35,1083.45 216.63,1088.62 213.80,1090.50" fill="none" stroke="#fff" stroke-width="9.3" stroke-linecap="butt" stroke-linejoin="round"/>
<ellipse class="ln" stroke-width="1.2" cx="329.8" cy="1011.2" rx="1.9" ry="4.0" transform="rotate(-18 329.8 1011.2)"/>
<ellipse class="ln" stroke-width="1.2" cx="322.8" cy="1017.2" rx="1.7" ry="3.6" transform="rotate(-34 322.8 1017.2)"/>
<g transform="translate(420,930) scale(0.1)" stroke-width="13">
<path class="ln" stroke-width="32" d="M350,440 L440,340 M365,460 L470,382 M375,480 L492,422 M385,500 L506,466"/>
<path fill="none" stroke="#fff" stroke-linecap="round" stroke-width="10" d="M350,440 L440,340 M365,460 L470,382 M375,480 L492,422 M385,500 L506,466"/>
<path class="ln" d="M300,440 Q330,470 335,530 M320,432 Q350,460 355,520 M340,424 Q372,452 378,512 M170,590 L180,565 M195,582 L208,548 M220,572 L235,530 M245,562 L262,515 M270,550 L285,500 M292,538 L305,490"/>
</g>
<use href="#cB" transform="translate(396.6,921.4) scale(0.16)" stroke-width="8.2"/>
<g transform="translate(155,1050) scale(0.15)" stroke-width="8.7">
<path class="ln" stroke-width="19" d="M300,262 L360,262 L382,292 M330,300 L372,300 M340,330 L392,310"/>
<path fill="none" stroke="#fff" stroke-linecap="round" stroke-width="4" d="M300,262 L360,262 L382,292 M330,300 L372,300 M340,330 L392,310"/>
<path class="ln" d="M368,250 Q395,265 400,300 M390,242 Q418,258 425,290 M415,235 Q440,250 448,278 M440,232 Q462,245 468,268 M465,232 Q480,240 488,255"/>
<path class="wf" d="M90,345 L110,325 L140,320 L160,290 L185,265 L200,275 L260,245 L275,245 L340,295 L345,340 L365,345 V385 L330,405 L210,460 L180,480 L160,475 L100,430 L90,410 Z"/>
<path class="ln" d="M140,320 L205,360 L215,380 L210,458 M215,380 L340,318 M225,355 L305,315 M240,395 L300,365 L320,370 V400 L250,435 L240,425 Z M160,290 L200,275"/>
<path class="ln" d="M104,352 Q106,338 125,340 L190,378 Q200,385 199,400 L196,448 Q192,465 172,462 L112,425 Q102,418 102,405 Z"/><g fill="#000"><circle cx="122" cy="362" r="8"/><circle cx="168" cy="390" r="8"/><circle cx="118" cy="412" r="8"/><circle cx="162" cy="440" r="8"/><circle cx="142" cy="400" r="8"/></g>
</g>
<path class="ln ld" d="M353.8,1010 V1049"/>

<!-- 80_h11.svg -->
<g transform="translate(740,940) scale(0.14)" stroke-width="9.5">
<path class="ln" stroke-width="26" d="M425,335 L575,200 M440,370 L655,292"/>
<path fill="none" stroke="#fff" stroke-linecap="round" stroke-width="8" d="M425,335 L575,200 M440,370 L655,292"/>
<path class="wf" d="M565,190 L635,150 L650,172 L580,215 Z M648,285 L722,248 L735,270 L660,308 Z"/>
<path class="ln" d="M590,178 L602,203 M612,166 L625,190 M672,275 L683,297 M695,263 L706,285"/>
<ellipse class="wf" cx="693" cy="148" rx="57" ry="38"/><ellipse class="ln" cx="696" cy="150" rx="23" ry="14"/>
<ellipse class="wf" cx="775" cy="238" rx="57" ry="38"/><ellipse class="ln" cx="778" cy="240" rx="23" ry="14"/>
</g>
<path d="M551.5,1100 L550.2,1101.1" fill="none" stroke="#000" stroke-width="14.3" stroke-linecap="round" stroke-linejoin="round"/>
<path d="M551.5,1100 L550.2,1101.1" fill="none" stroke="#fff" stroke-width="11.7" stroke-linecap="round" stroke-linejoin="round"/>
<path d="M538.5,1112.2 L539.4,1111.3" fill="none" stroke="#000" stroke-width="13.5" stroke-linecap="round" stroke-linejoin="round"/>
<path d="M538.5,1112.2 L539.4,1111.3" fill="none" stroke="#fff" stroke-width="10.9" stroke-linecap="round" stroke-linejoin="round"/>
<path d="M551,1100.5 C552.77,1098.95 556.77,1093.82 561.60,1091.20 C566.43,1088.58 572.27,1086.93 580.00,1084.80 C587.73,1082.67 598.00,1080.87 608.00,1078.40 C618.00,1075.93 628.00,1073.65 640.00,1070.00 C652.00,1066.35 671.50,1059.62 680.00,1056.50 C688.50,1053.38 683.33,1055.08 691.00,1051.30 C698.67,1047.52 713.17,1040.97 726.00,1033.80 C738.83,1026.63 755.87,1015.65 768.00,1008.30 C780.13,1000.95 793.67,992.80 798.80,989.70" fill="none" stroke="#000" stroke-width="14.3" stroke-linecap="butt" stroke-linejoin="round"/>
<path d="M551,1100.5 C552.77,1098.95 556.77,1093.82 561.60,1091.20 C566.43,1088.58 572.27,1086.93 580.00,1084.80 C587.73,1082.67 598.00,1080.87 608.00,1078.40 C618.00,1075.93 628.00,1073.65 640.00,1070.00 C652.00,1066.35 671.50,1059.62 680.00,1056.50 C688.50,1053.38 683.33,1055.08 691.00,1051.30 C698.67,1047.52 713.17,1040.97 726.00,1033.80 C738.83,1026.63 755.87,1015.65 768.00,1008.30 C780.13,1000.95 793.67,992.80 798.80,989.70" fill="none" stroke="#fff" stroke-width="11.7" stroke-linecap="butt" stroke-linejoin="round"/>
<path d="M539.2,1111.5 C536.25,1114.58 528.12,1123.02 521.50,1130.00 C514.88,1136.98 506.83,1145.77 499.50,1153.40 C492.17,1161.03 485.02,1168.40 477.50,1175.80 C469.98,1183.20 461.73,1191.38 454.40,1197.80 C447.07,1204.22 439.73,1209.90 433.50,1214.30 C427.27,1218.70 422.92,1220.65 417.00,1224.20 C411.08,1227.75 401.17,1233.70 398.00,1235.60" fill="none" stroke="#000" stroke-width="13.5" stroke-linecap="butt" stroke-linejoin="round"/>
<path d="M539.2,1111.5 C536.25,1114.58 528.12,1123.02 521.50,1130.00 C514.88,1136.98 506.83,1145.77 499.50,1153.40 C492.17,1161.03 485.02,1168.40 477.50,1175.80 C469.98,1183.20 461.73,1191.38 454.40,1197.80 C447.07,1204.22 439.73,1209.90 433.50,1214.30 C427.27,1218.70 422.92,1220.65 417.00,1224.20 C411.08,1227.75 401.17,1233.70 398.00,1235.60" fill="none" stroke="#fff" stroke-width="10.9" stroke-linecap="butt" stroke-linejoin="round"/>
<ellipse class="ln" stroke-width="1.2" cx="547.6" cy="1100.6" rx="2.2" ry="4.4" transform="rotate(-41 547.6 1100.6)"/>
<ellipse class="ln" stroke-width="1.2" cx="542.2" cy="1112.8" rx="1.9" ry="4.0" transform="rotate(-45 542.2 1112.8)"/>
<g transform="translate(740,940) scale(0.14)" stroke-width="9.5">
<path class="ln" d="M414,320 Q445,340 449,389 M391,331 Q423,352 428,403 M369,343 Q402,364 409,417 M348,354 Q380,376 386,429 M325,389 Q348,405 357,442 M306,403 Q326,420 334,454 M289,423 Q306,438 314,466 M277,446 Q288,458 291,477"/>
</g>
<g transform="translate(660,1020) scale(0.14)" stroke-width="9.5">
<path d="M120,330 L330,205 L345,232 L170,330 Z" fill="#fff"/>
<path class="ln" d="M140,306 L150,286 L185,286 L180,300 L232,290 M255,256 L285,215 L315,215 L322,236"/>
<path class="ln" stroke-width="24" d="M260,255 Q400,282 520,305 L565,300 M248,272 Q390,305 500,330 L590,325 M236,290 Q380,335 470,358 Q540,362 600,345"/>
<path fill="none" stroke="#fff" stroke-linecap="round" stroke-width="8" d="M260,255 Q400,282 520,305 L565,300 M248,272 Q390,305 500,330 L590,325 M236,290 Q380,335 470,358 Q540,362 600,345"/>
<path class="wf" d="M590,165 L665,125 L720,140 L735,165 L715,190 L700,170 L665,180 L650,215 L600,215 Z"/><path class="ln" d="M590,165 L640,180 L650,215 M640,180 L700,150"/>
<path class="wf" d="M535,280 L610,225 L660,245 L720,260 L725,285 L705,300 L620,360 L600,345 L585,315 Z"/><path class="ln" d="M585,315 L665,262 L705,300 M560,275 L630,240 M618,295 L672,268 M665,262 L660,245"/>
<path class="wf" d="M750,205 L785,175 L825,195 L825,215 L790,240 L755,230 Z"/><path class="ln" d="M715,230 L735,225 L745,242 L760,240 M790,240 L793,212 L825,195 M793,212 L752,207"/>
</g>
<g transform="translate(340,1200) scale(0.1)" stroke-width="13">
<path class="ln" stroke-width="26" d="M455,388 L585,332 M500,415 L600,378 M470,400 Q540,395 590,350"/>
<path fill="none" stroke="#fff" stroke-linecap="round" stroke-width="9" d="M455,388 L585,332 M500,415 L600,378 M470,400 Q540,395 590,350"/>
<path class="ln" d="M548,312 Q585,335 600,415 M580,296 Q622,322 640,398 M618,280 Q660,305 680,378 M656,265 Q698,290 718,358 M695,250 Q735,272 755,338 M735,238 Q770,258 790,318 M775,232 Q800,248 822,300 M815,232 Q832,245 848,282 M850,235 L860,255"/>
<path class="wf" d="M310,430 L420,370 L450,385 L468,412 L520,440 L526,478 L400,555 L360,480 Z"/>
<path class="ln" d="M372,470 L470,415 M420,520 L500,478"/>
<path class="wf" d="M95,530 Q100,500 125,488 L230,435 Q262,425 290,432 Q340,455 372,500 Q398,540 392,585 L235,698 Q205,712 178,700 Q140,670 118,620 Q98,570 95,530 Z"/>
<path class="ln" d="M118,540 Q150,520 190,540 Q240,575 245,625 Q245,670 210,690 M185,492 L260,466 L295,482 V510 L250,530 L205,520 Z M225,490 L255,480 L262,500"/>
</g>
<path class="ln ld" d="M673.6,1067.3 V1118 H769.2 V1098.8 M768.9,1073.6 V1054 M721.3,1118 V1141"/>

<!-- 95_labels.svg -->
<g font-size="18.3">
<text x="64.8" y="233.2">9</text>
<text x="70.6" y="344.8">15</text>
<text x="648.3" y="273.2">16</text>
<text x="463.3" y="429.9">2</text>
<text x="234.2" y="472.5">1</text>
<text x="514.3" y="497.2">3</text>
<text x="440.8" y="555.6">4</text>
<text x="584.9" y="554.7">5</text>
<text x="101.2" y="648.9">7</text>
<text x="155.8" y="676">8</text>
<text x="388.6" y="816">6</text>
<text x="535.5" y="870.5">13</text>
<text x="223.6" y="1038.8">14</text>
<text x="341.9" y="1067.3">10</text>
<text x="757.4" y="1093.2">12</text>
<text x="711.5" y="1160">11</text>
</g>
</svg>
</body></html>
